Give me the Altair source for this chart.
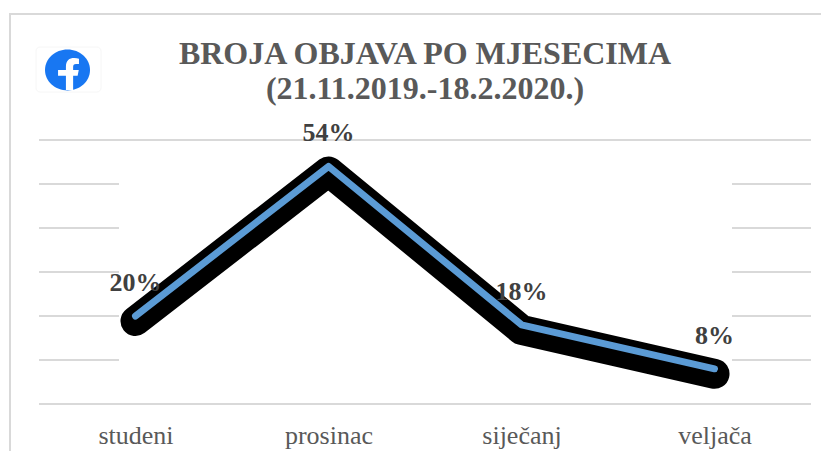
import altair as alt
import pandas as pd

months = ["studeni", "prosinac", "siječanj", "veljača"]
shares = [20, 54, 18, 8]
labels = ["20%", "54%", "18%", "8%"]
full_grid = [0, 60]
broken_grid = [10, 20, 30, 40, 50]
title_line_1 = "BROJA OBJAVA PO MJESECIMA"
title_line_2 = "(21.11.2019.-18.2.2020.)"

df = pd.DataFrame({"month": months, "share": shares, "label": labels})
W, H = 772, 264
x = alt.X("month:N", sort=months, axis=alt.Axis(title=None, domain=False, ticks=False, grid=False,
          labelFont="Liberation Serif", labelFontSize=26, labelColor="#595959", labelAngle=0, labelPadding=18),
          scale=alt.Scale(paddingInner=0, paddingOuter=0))
y_scale = alt.Scale(domain=[0, 60], range=[H, 0])
y = alt.Y("share:Q", axis=None, scale=y_scale)
one = pd.DataFrame({"a": [0]})

frame = alt.Chart(one).mark_rect(fill="transparent", stroke="#d9d9d9", strokeWidth=2, clip=False).encode(
    x=alt.value(-29), x2=alt.value(830), y=alt.value(-126), y2=alt.value(340))

g1 = alt.Chart(pd.DataFrame({"v": full_grid})).mark_rule(color="#d9d9d9", strokeWidth=2).encode(
    y=alt.Y("v:Q", axis=None, scale=y_scale), x=alt.value(0), x2=alt.value(W))
g2 = alt.Chart(pd.DataFrame({"v": broken_grid})).mark_rule(color="#d9d9d9", strokeWidth=2).encode(
    y=alt.Y("v:Q", axis=None, scale=y_scale), x=alt.value(0), x2=alt.value(80))
g3 = alt.Chart(pd.DataFrame({"v": broken_grid})).mark_rule(color="#d9d9d9", strokeWidth=2).encode(
    y=alt.Y("v:Q", axis=None, scale=y_scale), x=alt.value(693), x2=alt.value(W))

shadow = alt.Chart(df).mark_line(color="black", strokeWidth=30, strokeCap="round", strokeJoin="round").encode(
    x=x, y=alt.Y("share:Q", axis=None, scale=alt.Scale(domain=[0, 60], range=[H + 5, 5])))
line = alt.Chart(df).mark_line(color="#5b9bd5", strokeWidth=7, strokeCap="round", strokeJoin="round").encode(x=x, y=y)
text = alt.Chart(df).mark_text(font="Liberation Serif", fontWeight="bold", fontSize=26, color="#404040",
                               baseline="alphabetic", dy=-25).encode(x=x, y=y, text="label:N")

ELLIPSE = "M-1,0 A1,0.91 0 1 1 1,0 A1,0.91 0 1 1 -1,0 Z"
F_GLYPH = ("M-0.07,0.89 L-0.07,0.25 L-0.42,0.25 L-0.42,0 L-0.07,0 L-0.07,-0.15 "
           "C-0.07,-0.42 0.08,-0.53 0.3,-0.53 C0.38,-0.53 0.45,-0.52 0.51,-0.5 L0.51,-0.27 L0.38,-0.27 "
           "C0.28,-0.27 0.25,-0.22 0.25,-0.13 L0.25,0 L0.5,0 L0.45,0.25 L0.25,0.25 L0.25,0.89 Z")
logo_box = alt.Chart(one).mark_rect(fill="transparent", stroke="#f6f6f6", strokeWidth=1, cornerRadius=4, clip=False).encode(
    x=alt.value(-3), x2=alt.value(62), y=alt.value(-93), y2=alt.value(-48))
logo = alt.Chart(one).mark_point(filled=True, color="#1877f2", size=2025, shape=ELLIPSE, opacity=1, clip=False).encode(
    x=alt.value(28.5), y=alt.value(-70))
f = alt.Chart(one).mark_point(filled=True, color="white", size=2025, shape=F_GLYPH, opacity=1, clip=False).encode(
    x=alt.value(28.5), y=alt.value(-70))

def title_mark(line, ypos):
    return alt.Chart(pd.DataFrame({"t": [line]})).mark_text(
        font="Liberation Serif", fontWeight="bold", fontSize=32, color="#595959", baseline="alphabetic", align="center"
    ).encode(x=alt.value(W / 2), y=alt.value(ypos), text="t:N")

chart = alt.layer(frame, g1, g2, g3, shadow, line, text, logo_box, logo, f,
                  title_mark(title_line_1, -76), title_mark(title_line_2, -41)).resolve_scale(y="independent").properties(
    width=W, height=H,
    padding={"left": 31, "top": 132, "right": 10, "bottom": 47},
    autosize=alt.AutoSizeParams(type="none"),
).configure_view(stroke=None)

chart.save("out.html", embed_options={"renderer": "svg", "actions": False})
